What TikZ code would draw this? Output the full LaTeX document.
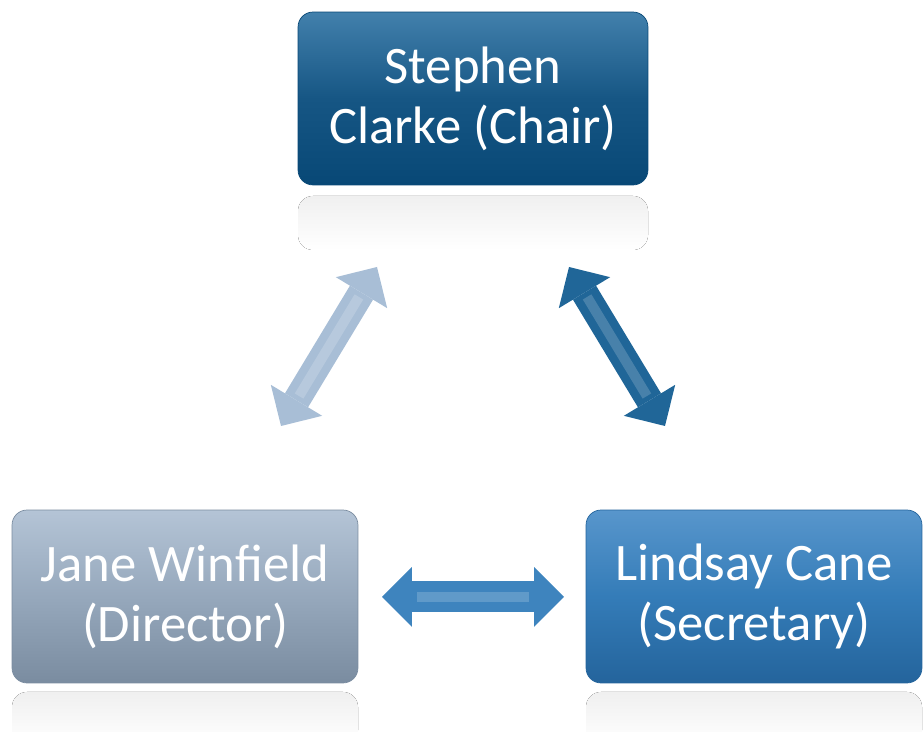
\documentclass[tikz,border=0pt]{standalone}
\usepackage{fontspec}
\setmainfont{Carlito}
\usetikzlibrary{arrows.meta}
\definecolor{chairblue}{RGB}{22,86,132}
\definecolor{chairtop}{RGB}{66,128,172}
\definecolor{chairbot}{RGB}{8,72,118}
\definecolor{dirgrey}{RGB}{150,168,188}
\definecolor{dirtop}{RGB}{180,196,214}
\definecolor{dirbot}{RGB}{122,140,160}
\definecolor{secblue}{RGB}{52,124,184}
\definecolor{sectop}{RGB}{88,150,204}
\definecolor{secbot}{RGB}{36,100,156}
\definecolor{arrlight}{RGB}{168,190,214}
\definecolor{arrdark}{RGB}{32,102,152}
\definecolor{arrmid}{RGB}{62,132,190}

\begin{document}
\begin{tikzpicture}[x=0.02cm,y=-0.02cm]
            \tikzset{box/.style = {rounded corners=0.3cm, minimum height=3.46cm, align=center,
                                   text=white, font=\fontsize{30}{34}\selectfont},
                     edge/.style = {line width=0.54cm,
                                    {Triangle[width=1.2cm,length=0.6cm,line width=0pt]}-{Triangle[width=1.2cm,length=0.6cm,line width=0pt]}},
                     shine/.style = {line width=0.2cm, white, opacity=0.18, shorten <=0.7cm, shorten >=0.7cm},
                     mirror/.style = {rounded corners=0.3cm, top color=black!6, bottom color=white}}
            \useasboundingbox (0,0) rectangle (924,732);
            % reflections
            \fill[mirror] (298,196) rectangle (648,250);
            \fill[mirror] (12,692) rectangle (358,745);
            \fill[mirror] (586,692) rectangle (922,745);
            % vertices
            \node[box, minimum width=7cm, top color=chairtop, bottom color=chairbot,
                  middle color=chairblue, draw=chairbot] (chair) at (473,98.5) {Stephen\\Clarke (Chair)};
            \node[box, minimum width=6.92cm, top color=dirtop, bottom color=dirbot,
                  middle color=dirgrey, draw=dirbot] (director) at (185,596.5) {Jane Winfield\\(Director)};
            \node[box, minimum width=6.72cm, top color=sectop, bottom color=secbot,
                  middle color=secblue, draw=secbot] (secretary) at (754,596.5) {Lindsay Cane\\(Secretary)};
            \coordinate (lt) at (377,267);
            \coordinate (lb) at (281,426);
            \coordinate (rt) at (569,267);
            \coordinate (rb) at (665,426);
            \coordinate (bl) at (382,597);
            \coordinate (br) at (564,597);
            %edges
            \draw[edge, arrlight] (lb) to (lt);
            \draw[shine] (lb) to (lt);
            \draw[edge, arrdark] (rt) to (rb);
            \draw[shine] (rt) to (rb);
            \draw[edge, arrmid, line width=0.62cm] (bl) to (br);
            \draw[shine] (bl) to (br);
        \end{tikzpicture}
\end{document}
